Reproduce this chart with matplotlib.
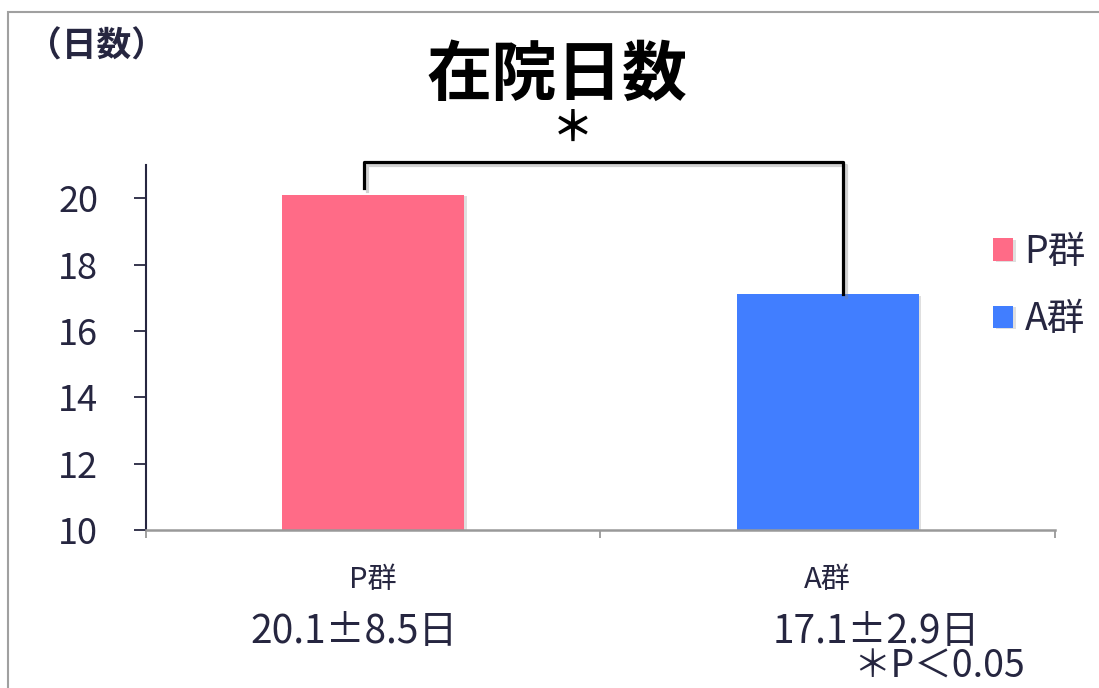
import matplotlib
matplotlib.use("Agg")
import matplotlib.pyplot as plt
import matplotlib.patheffects as pe
from matplotlib.patches import Rectangle

plt.rcParams['font.family'] = ['Noto Sans CJK JP', 'DejaVu Sans']

# data
groups = ["P群", "A群"]
days = [20.1, 17.1]
stats_labels = ["20.1±8.5日", "17.1±2.9日"]
bar_colors = ["#FF6B87", "#417EFF"]
y_ticks = [10, 12, 14, 16, 18, 20]

text_color = "#262640"

fig = plt.figure(figsize=(10.99, 6.88), dpi=100)
ax = fig.add_axes([0.1328, 0.2297, 0.8272, 0.5303])

# outer frame
fig.patches.append(Rectangle((8 / 1099, -0.1), 1.2, 0.1 + 1 - 12 / 688,
                             transform=fig.transFigure, fill=False,
                             edgecolor="#a0a0a0", linewidth=1.5))

x = list(range(len(groups)))
bars = ax.bar(x, days, width=0.4, color=bar_colors, label=groups, zorder=2)
for b in bars:
    b.set_path_effects([pe.SimplePatchShadow(offset=(2, -1), shadow_rgbFace="gray", alpha=0.25), pe.Normal()])

ax.set_xlim(-0.5, 1.5)
ax.set_ylim(10, 21)
ax.set_yticks(y_ticks)
ax.tick_params(axis="y", length=8.5, width=1.3, color=text_color, pad=26,
               labelsize=26, labelcolor=text_color)
ax.set_xticks([-0.5, 0.5, 1.5])
ax.set_xticklabels([])
ax.tick_params(axis="x", length=6, width=1.3, color="#999999")
ax.set_xticks(x, minor=True)
ax.set_xticklabels(groups, minor=True)
ax.tick_params(axis="x", which="minor", length=0, pad=25, labelsize=21,
               labelcolor=text_color)

for s in ["top", "right"]:
    ax.spines[s].set_visible(False)
ax.spines["left"].set_color(text_color)
ax.spines["left"].set_linewidth(1.5)
ax.spines["bottom"].set_color("#999999")
ax.spines["bottom"].set_linewidth(1.8)

# significance bracket
ax.plot([-0.02, -0.02, 1.033, 1.033], [20.3, 21.1, 21.1, 17.1], color="black",
        linewidth=2.3, clip_on=False, zorder=3,
        path_effects=[pe.SimpleLineShadow(offset=(2, -2), shadow_color="gray", alpha=0.35),
                      pe.Normal()])

# titles / labels
fig.text(0.507, 0.891, "在院日数", ha="center", va="center", fontsize=47,
         fontweight="bold", color="black")
fig.text(0.521, 0.812, "＊", ha="center", va="center", fontsize=30,
         fontweight="bold", color="black")
fig.text(0.025, 0.933, "（日数）", ha="left", va="center", fontsize=25,
         fontweight="bold", color=text_color)

# stats under categories
fig.text(354 / 1099, 1 - 632 / 688, stats_labels[0], ha="center", va="center",
         fontsize=28, color=text_color)
fig.text(876 / 1099, 1 - 632 / 688, stats_labels[1], ha="center", va="center",
         fontsize=28, color=text_color)
fig.text(853 / 1099, 1 - 667 / 688, "＊P＜0.05", ha="left", va="center",
         fontsize=27, color=text_color)

ax.legend(loc="center left", bbox_to_anchor=(974 / 1099, 1 - 286 / 688),
          bbox_transform=fig.transFigure, frameon=False, fontsize=27,
          handlelength=0.55, handleheight=0.55, handletextpad=0.3,
          labelspacing=0.75, borderpad=0, labelcolor=text_color)

fig.savefig("out.png", dpi=100)
